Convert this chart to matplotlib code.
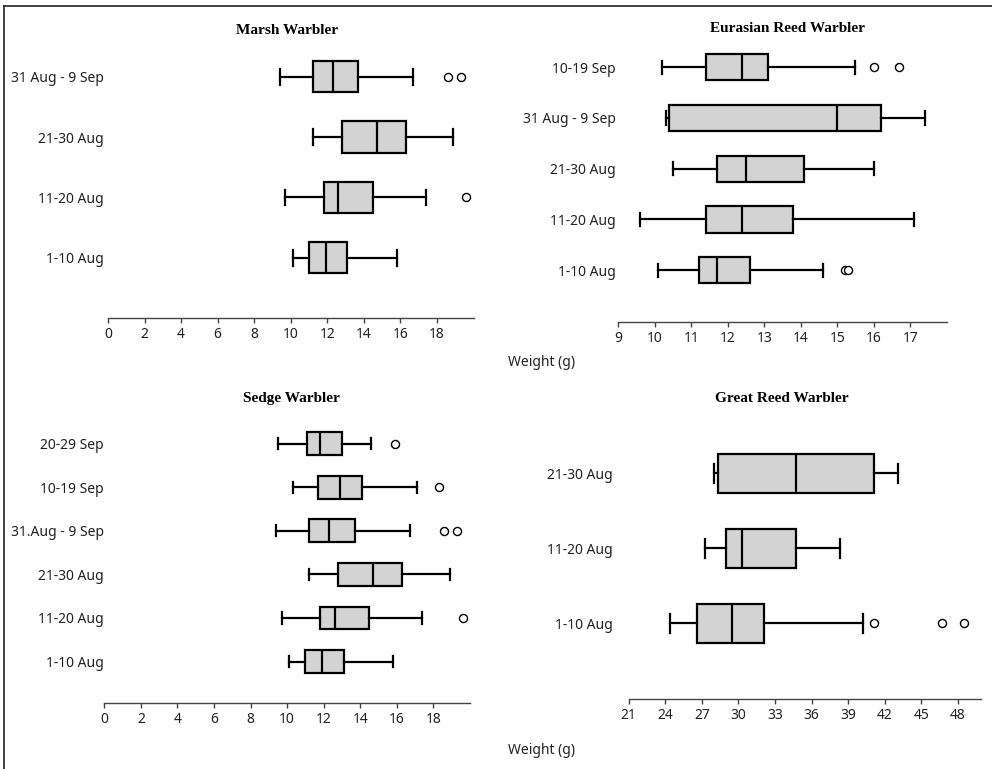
import matplotlib.pyplot as plt
from matplotlib.lines import Line2D

# ---- data (categories listed bottom to top) ----
marsh_labels = ["1-10 Aug", "11-20 Aug", "21-30 Aug", "31 Aug - 9 Sep"]
marsh_lo = [10.1, 9.7, 11.2, 9.4]
marsh_q1 = [11.0, 11.8, 12.8, 11.2]
marsh_med = [11.9, 12.6, 14.7, 12.3]
marsh_q3 = [13.1, 14.5, 16.3, 13.7]
marsh_hi = [15.8, 17.4, 18.9, 16.7]
marsh_out = [[], [19.6], [], [18.6, 19.3]]

reed_labels = ["1-10 Aug", "11-20 Aug", "21-30 Aug", "31 Aug - 9 Sep", "10-19 Sep"]
reed_lo = [10.1, 9.6, 10.5, 10.3, 10.2]
reed_q1 = [11.2, 11.4, 11.7, 10.4, 11.4]
reed_med = [11.7, 12.4, 12.5, 15.0, 12.4]
reed_q3 = [12.6, 13.8, 14.1, 16.2, 13.1]
reed_hi = [14.6, 17.1, 16.0, 17.4, 15.5]
reed_out = [[15.2, 15.3], [], [], [], [16.0, 16.7]]

sedge_labels = ["1-10 Aug", "11-20 Aug", "21-30 Aug", "31.Aug - 9 Sep",
                "10-19 Sep", "20-29 Sep"]
sedge_lo = [10.1, 9.7, 11.2, 9.4, 10.3, 9.5]
sedge_q1 = [11.0, 11.8, 12.8, 11.2, 11.7, 11.1]
sedge_med = [11.9, 12.6, 14.7, 12.3, 12.9, 11.8]
sedge_q3 = [13.1, 14.5, 16.3, 13.7, 14.1, 13.0]
sedge_hi = [15.8, 17.4, 18.9, 16.7, 17.1, 14.6]
sedge_out = [[], [19.6], [], [18.6, 19.3], [18.3], [15.9]]

great_labels = ["1-10 Aug", "11-20 Aug", "21-30 Aug"]
great_lo = [24.4, 27.3, 28.0]
great_q1 = [26.6, 29.0, 28.3]
great_med = [29.5, 30.3, 34.7]
great_q3 = [32.1, 34.7, 41.1]
great_hi = [40.2, 38.3, 43.1]
great_out = [[41.1, 46.7, 48.5], [], []]

W, H = 992, 769
SANS = ["Noto Sans", "DejaVu Sans"]


def fx(x):
    return x / W


def fy(y):
    return 1 - y / H


def make_stats(lo, q1, med, q3, hi, out):
    stats = []
    for i in range(len(lo)):
        stats.append({"whislo": lo[i], "q1": q1[i], "med": med[i],
                      "q3": q3[i], "whishi": hi[i], "fliers": out[i]})
    return stats


def panel(fig, title, title_xy, labels, stats, xlim, xticks,
          left, right, y_axis, spacing, b0, label_pad):
    n = len(labels)
    top_extra = 0.6
    y0 = -b0
    y1 = n - 1 + top_extra
    height_px = (y1 - y0) * spacing
    ax = fig.add_axes([fx(left), fy(y_axis), fx(right - left), height_px / H])

    ax.bxp(stats, positions=range(n), widths=0.52, vert=False,
           patch_artist=True, showfliers=True,
           boxprops=dict(facecolor="#d3d3d3", edgecolor="black", linewidth=1.6),
           medianprops=dict(color="black", linewidth=1.6),
           whiskerprops=dict(color="black", linewidth=1.6),
           capprops=dict(color="black", linewidth=1.6),
           flierprops=dict(marker="o", markerfacecolor="white",
                           markeredgecolor="black", markersize=5.8,
                           markeredgewidth=1.0))

    ax.set_xlim(*xlim)
    ax.set_ylim(y0, y1)
    ax.set_xticks(xticks)
    ax.set_xticklabels([str(t) for t in xticks], family=SANS, fontsize=10,
                       color="#222222")
    ax.set_yticks(range(n))
    ax.set_yticklabels(labels, family=SANS, fontsize=10, color="#222222")

    for s in ["top", "right", "left"]:
        ax.spines[s].set_visible(False)
    ax.spines["bottom"].set_color("#444444")
    ax.spines["bottom"].set_linewidth(1.0)
    ax.tick_params(axis="x", direction="out", length=3.6, width=1.0,
                   color="#444444", pad=3)
    ax.tick_params(axis="y", length=0, pad=label_pad)
    ax.patch.set_alpha(0)

    fig.text(fx(title_xy[0]), fy(title_xy[1]), title, ha="center", va="center",
             family=["Liberation Serif", "DejaVu Serif"], fontweight="bold",
             fontsize=11)
    return ax


def main():
    fig = plt.figure(figsize=(W / 100, H / 100), dpi=100)
    fig.patch.set_facecolor("white")

    panel(fig, "Marsh Warbler", (287, 31), marsh_labels,
          make_stats(marsh_lo, marsh_q1, marsh_med, marsh_q3, marsh_hi, marsh_out),
          (0, 20), list(range(0, 19, 2)),
          108, 473.6, 318, 60.3, 1.0, 2.9)

    panel(fig, "Eurasian Reed Warbler", (788, 29), reed_labels,
          make_stats(reed_lo, reed_q1, reed_med, reed_q3, reed_hi, reed_out),
          (9, 18), list(range(9, 18)),
          618.3, 946.7, 322, 50.75, 1.02, 1.7)

    panel(fig, "Sedge Warbler", (291, 399), sedge_labels,
          make_stats(sedge_lo, sedge_q1, sedge_med, sedge_q3, sedge_hi, sedge_out),
          (0, 20), list(range(0, 19, 2)),
          104.3, 470, 703, 43.6, 0.95, 0.5)

    panel(fig, "Great Reed Warbler", (782, 398), great_labels,
          make_stats(great_lo, great_q1, great_med, great_q3, great_hi, great_out),
          (21, 49.9), list(range(21, 49, 3)),
          628.7, 981, 699, 75, 1.01, 11.5)

    # shared axis titles
    fig.text(fx(508), fy(362), "Weight (g)", ha="left", va="center",
             family=SANS, fontsize=10, color="#222222")
    fig.text(fx(508), fy(751), "Weight (g)", ha="left", va="center",
             family=SANS, fontsize=10, color="#222222")

    # outer frame lines (top and left only)
    fig.add_artist(Line2D([fx(4), 1], [fy(5.5), fy(5.5)], color="#333333",
                          linewidth=1.3, transform=fig.transFigure))
    fig.add_artist(Line2D([fx(4), fx(4)], [fy(5.5), 0], color="#333333",
                          linewidth=1.3, transform=fig.transFigure))

    fig.savefig("out.png", dpi=100)
    plt.close(fig)


if __name__ == "__main__":
    main()
